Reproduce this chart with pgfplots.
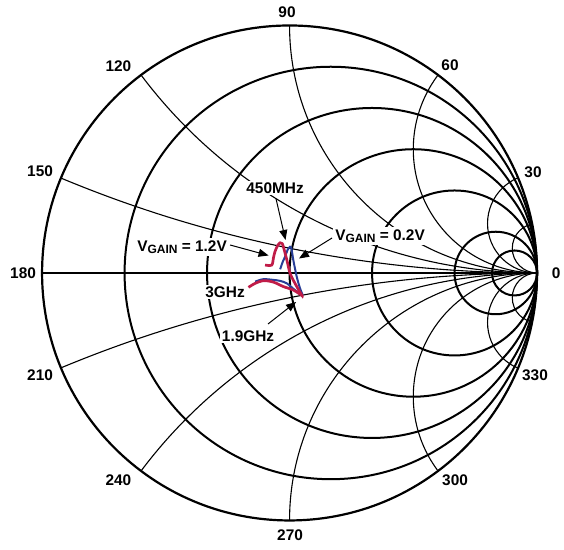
\documentclass[border=0pt]{standalone}
\usepackage{fontspec}
\setmainfont{Liberation Sans}
\usepackage{pgfplots}
\pgfplotsset{compat=1.18}
\usetikzlibrary{arrows.meta}

\definecolor{vred}{RGB}{192,28,72}
\definecolor{vblue}{RGB}{40,62,150}

% 1 unit of the reflection coefficient = 123.75pt (chart radius)
\newcommand{\R}{123.75pt}

\begin{document}
\begin{tikzpicture}[
  lab/.style={font=\fontsize{7.7}{8}\selectfont\bfseries, inner sep=0.8pt},
  note/.style={font=\fontsize{7.7}{8}\selectfont\bfseries, fill=white, inner sep=1pt},
  arr/.style={-{Triangle[length=5pt,width=4pt]}, line width=0.5pt},
]
\begin{axis}[
    x=\R, y=\R,
    xmin=-1, xmax=1, ymin=-1, ymax=1,
    hide axis,
    clip=false,
]
% whole picture area
\path (axis cs:-1.170,-1.119) rectangle (axis cs:1.109,1.103);

% -------- reactance arcs (thin), clipped to the chart --------
\begin{scope}
  \clip (axis cs:0,0) circle[radius=\R];
  \draw[line width=0.55pt] (axis cs:1,5)    circle[radius=618.75pt];
  \draw[line width=0.55pt] (axis cs:1,-5)   circle[radius=618.75pt];
  \draw[line width=0.55pt] (axis cs:1,2)    circle[radius=247.5pt];
  \draw[line width=0.55pt] (axis cs:1,-2)   circle[radius=247.5pt];
  \draw[line width=0.55pt] (axis cs:1,1)    circle[radius=123.75pt];
  \draw[line width=0.55pt] (axis cs:1,-1)   circle[radius=123.75pt];
  \draw[line width=0.55pt] (axis cs:1,0.5)  circle[radius=61.875pt];
  \draw[line width=0.55pt] (axis cs:1,-0.5) circle[radius=61.875pt];
  \draw[line width=0.55pt] (axis cs:1,0.2)  circle[radius=24.75pt];
  \draw[line width=0.55pt] (axis cs:1,-0.2) circle[radius=24.75pt];
  \draw[line width=0.55pt] (axis cs:1,0.1)  circle[radius=12.375pt];
  \draw[line width=0.55pt] (axis cs:1,-0.1) circle[radius=12.375pt];
\end{scope}

% -------- resistance circles (thick) --------
\draw[line width=1pt] (axis cs:0.16667,0) circle[radius=103.125pt];
\draw[line width=1pt] (axis cs:0.33333,0) circle[radius=82.5pt];
\draw[line width=1pt] (axis cs:0.5,0)     circle[radius=61.875pt];
\draw[line width=1pt] (axis cs:0.66667,0) circle[radius=41.25pt];
\draw[line width=1pt] (axis cs:0.83333,0) circle[radius=20.625pt];
\draw[line width=1pt] (axis cs:0.90909,0) circle[radius=11.25pt];
\draw[line width=1.1pt] (axis cs:0,0) circle[radius=\R];
\draw[line width=1pt] (axis cs:-1,0) -- (axis cs:1,0);

% -------- S11, VGAIN = 0.2V --------
\addplot[vblue, line width=1pt, smooth, tension=0.5] coordinates {
  (-0.038,0.015) (-0.028,0.044) (-0.018,0.066) (-0.008,0.093)
  (0.002,0.106) (0.008,0.097) (0.015,0.053) (0.029,-0.015)
  (0.042,-0.061) (0.053,-0.089)
};
\addplot[vblue, line width=1pt, smooth, tension=0.5] coordinates {
  (0.053,-0.089) (0.022,-0.069) (-0.011,-0.042) (-0.038,-0.032)
  (-0.065,-0.028) (-0.106,-0.025) (-0.139,-0.035)
};

% -------- S11, VGAIN = 1.2V --------
\addplot[vred, line width=1.35pt, smooth, tension=0.5] coordinates {
  (-0.099,0.032) (-0.072,0.032) (-0.065,0.061) (-0.059,0.086)
  (-0.048,0.111) (-0.038,0.122) (-0.030,0.119) (-0.025,0.106)
  (-0.011,0.053) (0.002,-0.001) (0.022,-0.042) (0.049,-0.089)
  (0.053,-0.093)
};
\addplot[vred, line width=1.35pt, smooth, tension=0.5] coordinates {
  (0.053,-0.093) (0.015,-0.069) (-0.025,-0.055) (-0.065,-0.037)
  (-0.106,-0.031) (-0.139,-0.042) (-0.166,-0.058)
};

% -------- annotations --------
\node[note] at (axis cs:-0.0586,0.3434) {450MHz};
\node[note] at (axis cs:-0.4343,0.1051)
  {V\raisebox{-1.2pt}{\fontsize{6}{6}\selectfont GAIN} = 1.2V};
\node[note] at (axis cs:0.3657,0.1495)
  {V\raisebox{-1.2pt}{\fontsize{6}{6}\selectfont GAIN} = 0.2V};
\node[note] at (axis cs:-0.2606,-0.0768) {3GHz};
\node[note] at (axis cs:-0.1677,-0.2545) {1.9GHz};

\draw[arr] (axis cs:-0.0545,0.299) -- (axis cs:-0.0162,0.1333);
\draw[arr] (axis cs:-0.2404,0.1131) -- (axis cs:-0.0848,0.0707);
\draw[arr] (axis cs:0.1717,0.1414) -- (axis cs:0.0384,0.0586);
\draw[arr] (axis cs:-0.0869,-0.2061) -- (axis cs:0.0263,-0.1172);

% -------- angle labels --------
\node[lab] at (axis cs:-0.0101,1.0545) {90};
\node[lab] at (axis cs:0.0020,-1.0586) {270};
\node[lab] at (axis cs:-1.0768,0) {180};
\node[lab] at (axis cs:1.0768,0) {0};
\node[lab] at (axis cs:-0.6917,0.8335) {120};
\node[lab] at (axis cs:-1.0081,0.4121) {150};
\node[lab] at (axis cs:0.6485,0.8404) {60};
\node[lab] at (axis cs:0.9838,0.4081) {30};
\node[lab] at (axis cs:-1.0081,-0.4141) {210};
\node[lab] at (axis cs:-0.6917,-0.8376) {240};
\node[lab] at (axis cs:0.6687,-0.8376) {300};
\node[lab] at (axis cs:0.9919,-0.4141) {330};
\end{axis}
\end{tikzpicture}
\end{document}
